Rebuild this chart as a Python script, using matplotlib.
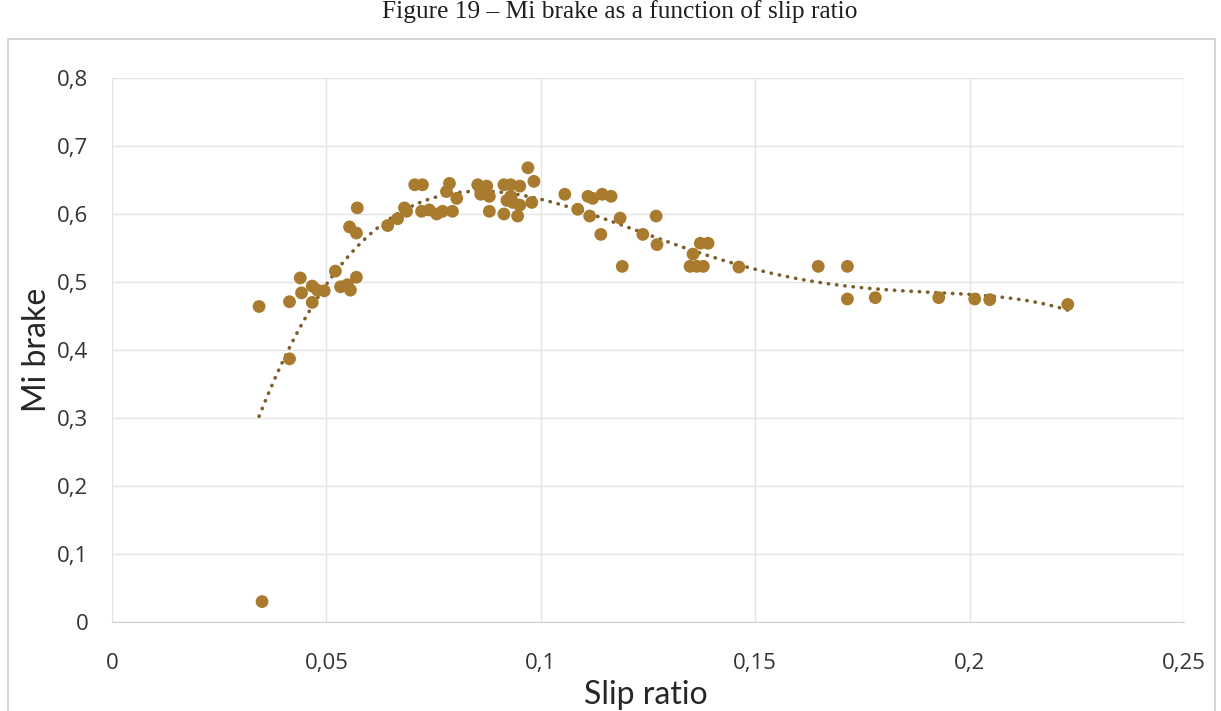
import numpy as np
import matplotlib
matplotlib.use("Agg")
import matplotlib.pyplot as plt
from matplotlib.patches import Rectangle

# Measured braking friction coefficient vs. slip ratio
slip = [
    0.035, 0.0343, 0.0414, 0.0414, 0.0442, 0.0439, 0.0467, 0.0467, 0.0479, 0.0495,
    0.0521, 0.0533, 0.0549, 0.0556, 0.0570, 0.0554, 0.0570, 0.0572,
    0.0643, 0.0666, 0.0687, 0.0682, 0.0706, 0.0724, 0.0722, 0.0740, 0.0757,
    0.0771, 0.0794, 0.0787, 0.0780, 0.0804, 0.0853, 0.0874, 0.0860, 0.0880,
    0.0880, 0.0914, 0.0930, 0.0951, 0.0930, 0.0921, 0.0935, 0.0914, 0.0946,
    0.0951, 0.0970, 0.0984, 0.0979, 0.1056, 0.1086,
    0.1110, 0.1121, 0.1143, 0.1164, 0.1114, 0.1140, 0.1185, 0.1190, 0.1238,
    0.1269, 0.1271, 0.1355, 0.1372, 0.1390, 0.1348, 0.1364, 0.1379, 0.1462,
    0.1647, 0.1715, 0.1715, 0.1780, 0.1928, 0.2012, 0.2047, 0.2229,
]
mi_brake = [
    0.030, 0.464, 0.387, 0.471, 0.484, 0.506, 0.494, 0.470, 0.488, 0.487,
    0.516, 0.493, 0.496, 0.488, 0.507, 0.581, 0.572, 0.609,
    0.583, 0.593, 0.604, 0.609, 0.643, 0.643, 0.604, 0.606, 0.600,
    0.604, 0.604, 0.645, 0.633, 0.623, 0.643, 0.641, 0.629, 0.626,
    0.604, 0.643, 0.643, 0.641, 0.626, 0.620, 0.617, 0.600, 0.597,
    0.613, 0.668, 0.648, 0.617, 0.629, 0.607,
    0.626, 0.623, 0.629, 0.626, 0.597, 0.570, 0.594, 0.523, 0.570,
    0.597, 0.555, 0.541, 0.557, 0.557, 0.523, 0.523, 0.523, 0.522,
    0.523, 0.523, 0.475, 0.477, 0.477, 0.475, 0.474, 0.467,
]

x_ticks = [0, 0.05, 0.1, 0.15, 0.2, 0.25]
x_tick_labels = ["0", "0,05", "0,1", "0,15", "0,2", "0,25"]
y_ticks = [0, 0.1, 0.2, 0.3, 0.4, 0.5, 0.6, 0.7, 0.8]
y_tick_labels = ["0", "0,1", "0,2", "0,3", "0,4", "0,5", "0,6", "0,7", "0,8"]

title = "Figure 19 \u2013 Mi brake as a function of slip ratio"
x_label = "Slip ratio"
y_label = "Mi brake"

point_color = "#A87B2F"
trend_color = "#7D5F2C"
grid_color = "#E4E4E4"
text_color = "#262626"

W, H = 1221, 711
fig = plt.figure(figsize=(W / 100, H / 100), dpi=100)
fig.patch.set_facecolor("white")

# light frame around the chart area
fig.patches.append(Rectangle((8 / W, -0.01), 1207 / W, 1.01 - 39 / H,
                             transform=fig.transFigure, fill=False,
                             edgecolor="#D2D2D2", linewidth=1.3))

fig.text(620 / W, 1 - 18 / H, title, ha="center", va="baseline",
         fontfamily="Liberation Serif", fontsize=18.3, color="#1E1E1E")

top_px, bottom_px = 78, 622
ax = fig.add_axes([112 / W, 1 - bottom_px / H, 1072 / W, (bottom_px - top_px) / H])
ax_h = bottom_px - top_px

x = np.array(slip)
y = np.array(mi_brake)

# polynomial trend line through the measurements
coef = np.polyfit(x, y, 4)
xt = np.linspace(x.min(), x.max(), 300)
ax.plot(xt, np.polyval(coef, xt), color=trend_color, linewidth=2.6,
        linestyle=(0, (0.1, 2.2)), dash_capstyle="round", zorder=2)

ax.scatter(x, y, s=85, color=point_color, edgecolors="none", zorder=3)

ax.set_xlim(0, 0.25)
ax.set_ylim(0, 0.8)
ax.set_xticks(x_ticks)
ax.set_xticklabels(x_tick_labels)
ax.set_yticks(y_ticks)
ax.set_yticklabels(y_tick_labels)
for lbl in ax.get_xticklabels() + ax.get_yticklabels():
    lbl.set_fontfamily("Open Sans")
    lbl.set_fontsize(16)
    lbl.set_color("#333333")
ax.tick_params(axis="x", length=0, pad=22)
ax.tick_params(axis="y", length=0, pad=17)

ax.grid(True, color=grid_color, linewidth=1.0)
ax.set_axisbelow(True)
for side in ["top", "right", "left"]:
    ax.spines[side].set_visible(False)
ax.spines["bottom"].set_color("#D0D0D0")

ax.set_xlabel(x_label, fontfamily="Lato", fontsize=23, color=text_color)
ax.set_ylabel(y_label, fontfamily="Lato", fontsize=23, color=text_color)
ax.xaxis.label.set_va("center")
ax.yaxis.label.set_va("center")
ax.xaxis.set_label_coords(0.498, -(695 - bottom_px) / ax_h)
ax.yaxis.set_label_coords(-(112 - 37) / 1072, 0.5)

fig.savefig("out.png", dpi=100, facecolor="white")
